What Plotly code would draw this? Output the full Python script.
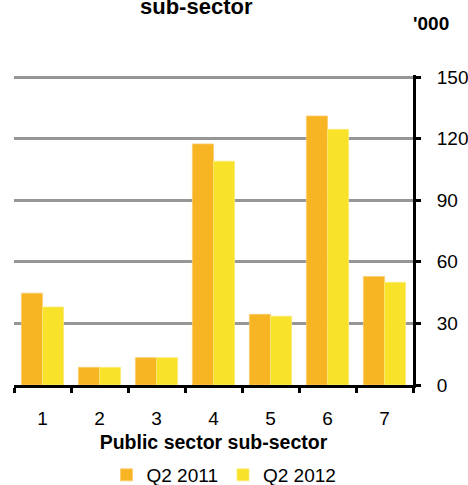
import plotly.graph_objects as go

categories = ["1", "2", "3", "4", "5", "6", "7"]
q2_2011 = [44.7, 8.6, 13.3, 117.4, 34.4, 131.0, 52.8]
q2_2012 = [38.0, 8.6, 13.3, 109.0, 33.5, 124.5, 50.0]
y_ticks = [0, 30, 60, 90, 120, 150]

FONT = "Liberation Sans, Arial, sans-serif"
ORANGE = "#F7B524"
YELLOW = "#F8E32A"

fig = go.Figure()
fig.add_trace(go.Bar(x=categories, y=q2_2011, name="Q2 2011",
                     marker=dict(color=ORANGE, line=dict(color="#FBCB6A", width=0.8))))
fig.add_trace(go.Bar(x=categories, y=q2_2012, name="Q2 2012",
                     marker=dict(color=YELLOW, line=dict(color="#FBEB78", width=0.8))))

W, H = 468, 485
ml, mr, mt, mb = 14, 55, 75, 100
pw, ph = W - ml - mr, H - mt - mb
y_max = 150 * ph / (ph - 2)  # leave room so the 150 gridline is drawn

def px_x(p):
    return (p - ml) / pw

def px_y(p):
    return (H - mb - p) / ph

fig.update_layout(
    width=W, height=H,
    margin=dict(l=ml, r=mr, t=mt, b=mb, pad=0, autoexpand=False),
    paper_bgcolor="white", plot_bgcolor="white",
    barmode="group", bargap=0.26, bargroupgap=0,
    font=dict(family=FONT, size=19, color="black"),
    showlegend=True,
    legend=dict(orientation="h", x=px_x(224), xanchor="center",
                y=px_y(475), yanchor="middle",
                font=dict(family=FONT, size=19, color="black"),
                itemwidth=30, traceorder="normal", bgcolor="rgba(0,0,0,0)"),
    xaxis=dict(
        type="category", automargin=False,
        showline=True, linecolor="black", linewidth=3,
        ticks="outside", tickson="boundaries", ticklen=5, tickwidth=3, tickcolor="black",
        showgrid=False, zeroline=False,
        tickfont=dict(family=FONT, size=19, color="black"),
        ticklabelstandoff=14,
        title=dict(text="<b>Public sector sub-sector</b>",
                   font=dict(family=FONT, size=19.5, color="black"), standoff=8),
    ),
    yaxis=dict(
        side="right", range=[0, y_max], tickvals=y_ticks, automargin=False,
        showline=True, linecolor="black", linewidth=3,
        ticks="outside", ticklen=5, tickwidth=3, tickcolor="black",
        showgrid=True, gridcolor="#969696", gridwidth=3,
        zeroline=False,
        tickfont=dict(family=FONT, size=19, color="black"),
        ticklabelstandoff=12,
    ),
    annotations=[
        dict(text="<b>sub-sector</b>", xref="paper", yref="paper",
             x=px_x(196), y=px_y(21), xanchor="center", yanchor="bottom",
             showarrow=False, font=dict(family=FONT, size=22, color="black")),
        dict(text="<b>'000</b>", xref="paper", yref="paper",
             x=px_x(411), y=px_y(24), xanchor="left", yanchor="middle",
             showarrow=False, font=dict(family=FONT, size=19, color="black")),
    ],
)

fig.write_html("out.html")
